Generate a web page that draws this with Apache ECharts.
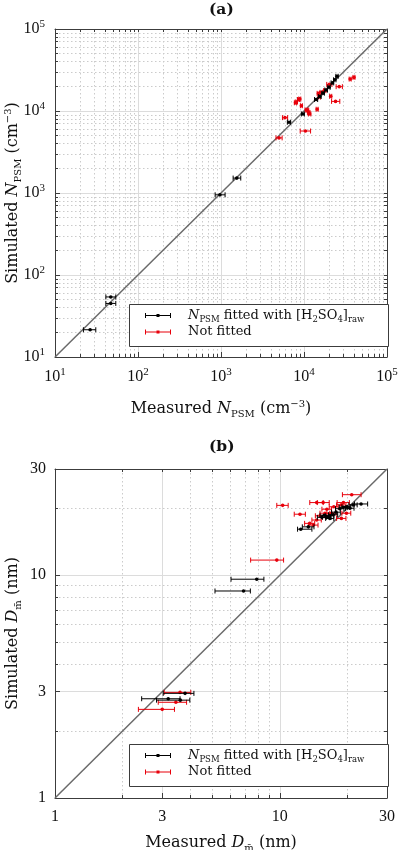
<!DOCTYPE html>
<html>
<head>
<meta charset="utf-8">
<script src="https://cdn.jsdelivr.net/npm/echarts@6/dist/echarts.min.js"></script>
<style>
html, body { margin: 0; padding: 0; background: #fff; }
#main { width: 398px; height: 850px; }
</style>
</head>
<body>
<div id="main"></div>
<script>
// (a) N_PSM, rows are [measured, simulated, measured low, measured high]
const aFitted = [
    [26.5, 21.5, 22, 31],
    [47, 54, 41, 54],
    [47, 45, 41, 54],
    [970, 950, 850, 1120],
    [1550, 1520, 1400, 1730],
    [6600, 7300, 6300, 6900],
    [9700, 9200, 9300, 10100],
    [14000, 13800, 13400, 14600],
    [15500, 15000, 14900, 16100],
    [17000, 16500, 16400, 17600],
    [18500, 18000, 17800, 19200],
    [20000, 19500, 19300, 20700],
    [22000, 22000, 21200, 22800],
    [23500, 24000, 22700, 24300],
    [25000, 26500, 24200, 25800]
];
const aNotFitted = [
    [5000, 4700, 4600, 5450],
    [5900, 8300, 5500, 6350],
    [10400, 5700, 9000, 12000],
    [7900, 12600, 7650, 8150],
    [8100, 12900, 7850, 8350],
    [8600, 13800, 8350, 8850],
    [8900, 14000, 8650, 9150],
    [9300, 11600, 9050, 9550],
    [10700, 10300, 10300, 11100],
    [11000, 10200, 10600, 11400],
    [11400, 9600, 11000, 11800],
    [11700, 9200, 11300, 12100],
    [14400, 10500, 14000, 14800],
    [14900, 16400, 14400, 15400],
    [15300, 14800, 14800, 15800],
    [16200, 16900, 15600, 16800],
    [17800, 17700, 17200, 18400],
    [20200, 21100, 18800, 21700],
    [21000, 15100, 20400, 21600],
    [24000, 13100, 21500, 27000],
    [26600, 19800, 24400, 29000],
    [36000, 24500, 35000, 37000],
    [40000, 25700, 38900, 41100]
];
const aRange = [10, 100000];
const aTicks = [10, 100, 1000, 10000, 100000];
const aTickExp = ['1', '2', '3', '4', '5'];
const aMinor = [20, 30, 40, 50, 60, 70, 80, 90,
    200, 300, 400, 500, 600, 700, 800, 900,
    2000, 3000, 4000, 5000, 6000, 7000, 8000, 9000,
    20000, 30000, 40000, 50000, 60000, 70000, 80000, 90000];

// (b) D_m (nm), same layout
const bFitted = [
    [3.79, 2.95, 3.03, 4.15],
    [3.19, 2.79, 2.43, 3.6],
    [3.61, 2.75, 2.83, 3.98],
    [6.9, 8.5, 5.15, 7.4],
    [7.9, 9.6, 6.07, 8.5],
    [12.4, 16.1, 12.0, 13.9],
    [13.4, 16.5, 12.6, 14.2],
    [15.4, 18.2, 14.7, 16.1],
    [15.8, 18.6, 15.1, 16.5],
    [16.2, 18.2, 15.5, 16.9],
    [16.7, 18.5, 16.0, 17.4],
    [16.7, 18.0, 16.0, 17.4],
    [17.3, 18.7, 16.5, 18.1],
    [17.8, 19.2, 17.0, 18.6],
    [18.5, 19.9, 17.7, 19.3],
    [19.2, 20.2, 18.4, 20.0],
    [19.8, 20.3, 18.9, 20.7],
    [20.5, 20.0, 19.6, 21.4],
    [21.2, 20.7, 20.3, 22.1],
    [23.0, 20.9, 21.5, 24.6]
];
const bNotFitted = [
    [3.6, 2.98, 3.06, 4.02],
    [3.45, 2.69, 2.88, 3.85],
    [3.0, 2.5, 2.35, 3.4],
    [9.7, 11.7, 7.42, 10.4],
    [10.3, 20.6, 9.7, 10.9],
    [12.3, 18.8, 11.6, 13.0],
    [13.6, 17.1, 12.9, 14.3],
    [14.1, 16.8, 13.4, 14.8],
    [14.6, 21.2, 13.6, 15.6],
    [14.6, 17.7, 13.9, 15.3],
    [15.1, 18.5, 14.4, 15.8],
    [15.6, 21.2, 14.7, 16.6],
    [15.9, 19.0, 15.1, 16.7],
    [16.2, 19.8, 15.4, 17.0],
    [17.0, 19.0, 16.2, 17.8],
    [17.4, 20.3, 16.6, 18.2],
    [18.8, 18.0, 17.9, 19.7],
    [18.8, 20.7, 17.9, 19.7],
    [19.2, 21.2, 18.0, 20.4],
    [19.8, 19.0, 18.9, 20.7],
    [20.9, 23.0, 19.0, 23.0]
];
const bRange = [1, 30];
const bTicks = [1, 3, 10, 30];
const bTickText = ['1', '3', '10', '30'];
const bMinor = [2, 4, 5, 6, 7, 8, 9, 20];

const SERIF = 'DejaVu Serif';
const NUMF = 'Liberation Serif';
const FRAME = '#3c3c3c';
const BLACK = '#000000';
const RED = '#e8000b';

const RICH = {
    t: { fontFamily: SERIF, fontSize: 16, lineHeight: 20, color: '#111' },
    i: { fontFamily: SERIF, fontStyle: 'italic', fontSize: 16, lineHeight: 20, color: '#111' },
    sub: { fontFamily: SERIF, fontSize: 10, lineHeight: 9, verticalAlign: 'bottom', color: '#111' },
    sup: { fontFamily: SERIF, fontSize: 10, lineHeight: 10, verticalAlign: 'top', color: '#111' },
    n: { fontFamily: NUMF, fontSize: 16, lineHeight: 20, color: '#111' },
    ns: { fontFamily: NUMF, fontSize: 11, lineHeight: 11, verticalAlign: 'top', color: '#111' }
};
const LRICH = {
    t: { fontFamily: SERIF, fontSize: 13, lineHeight: 17, color: '#111' },
    i: { fontFamily: SERIF, fontStyle: 'italic', fontSize: 13, lineHeight: 17, color: '#111' },
    sub: { fontFamily: SERIF, fontSize: 8.5, lineHeight: 8, verticalAlign: 'bottom', color: '#111' }
};

function pick(ticks, labels, v) {
    let best = 0;
    ticks.forEach((t, k) => {
        if (Math.abs(Math.log(t / v)) < Math.abs(Math.log(ticks[best] / v))) best = k;
    });
    return labels[best];
}
const aFmt = v => '{n|10}{ns|' + pick(aTicks, aTickExp, v) + '}';
const bFmt = v => '{n|' + pick(bTicks, bTickText, v) + '}';

function mkAxes(isX, gi, range, major, minor, fmt, margin, name, nameGap) {
    const base = { type: 'log', logBase: 10, gridIndex: gi, min: range[0], max: range[1] };
    return [
        Object.assign({}, base, {
            position: isX ? 'bottom' : 'left',
            name: name,
            nameLocation: 'middle',
            nameGap: nameGap,
            nameMoveOverlap: false,
            nameTextStyle: { rich: RICH },
            axisLine: { show: true, onZero: false, lineStyle: { color: FRAME, width: 1 } },
            axisTick: { show: true, inside: true, length: 5, customValues: major, lineStyle: { color: FRAME } },
            axisLabel: { show: true, customValues: major, formatter: fmt, margin: margin, rich: RICH },
            splitLine: { show: true, lineStyle: { color: '#dcdcdc', width: 1 } },
            minorTick: { show: false },
            minorSplitLine: { show: false }
        }),
        Object.assign({}, base, {
            position: isX ? 'bottom' : 'left',
            axisLine: { show: false },
            axisTick: { show: true, inside: true, length: 3, customValues: minor, lineStyle: { color: FRAME } },
            axisLabel: { show: false },
            splitLine: { show: true, lineStyle: { color: '#cbcbcb', width: 1, type: [1.5, 2.5] } }
        }),
        Object.assign({}, base, {
            position: isX ? 'top' : 'right',
            axisLine: { show: true, onZero: false, lineStyle: { color: FRAME, width: 1 } },
            axisTick: { show: true, inside: true, length: 3, customValues: major.concat(minor), lineStyle: { color: FRAME } },
            axisLabel: { show: false },
            splitLine: { show: false }
        })
    ];
}

// horizontal error bar with caps and a dot
function errBar(params, api) {
    const y = api.value(1);
    const lo = api.coord([api.value(2), y]);
    const hi = api.coord([api.value(3), y]);
    const c = api.coord([api.value(0), y]);
    const color = api.visual('color');
    const cap = 2.5;
    const st = { stroke: color, lineWidth: 1 };
    return {
        type: 'group',
        children: [
            { type: 'line', shape: { x1: lo[0], y1: lo[1], x2: hi[0], y2: hi[1] }, style: st },
            { type: 'line', shape: { x1: lo[0], y1: lo[1] - cap, x2: lo[0], y2: lo[1] + cap }, style: st },
            { type: 'line', shape: { x1: hi[0], y1: hi[1] - cap, x2: hi[0], y2: hi[1] + cap }, style: st },
            { type: 'circle', shape: { cx: c[0], cy: c[1], r: 1.8 }, style: { fill: color } }
        ]
    };
}

const nameN = '{i|N}{sub|PSM}';
const nameD = '{i|D}{sub|m\u0304}';
const ICON = 'path://M0,2H26V3H0Z M0,0H1V5H0Z M25,0H26V5H25Z M11.5,1H14.5V4H11.5Z';

function legendAt(top) {
    return {
        left: 145, top: top,
        orient: 'vertical',
        selectedMode: false,
        padding: 0,
        z: 20,
        itemGap: 1.5,
        itemWidth: 50,
        itemHeight: 5,
        data: [{ name: 'fitted', icon: ICON }, { name: 'notfitted', icon: ICON }],
        formatter: n => n === 'fitted'
            ? nameN + '{t| fitted with [H}{sub|2}{t|SO}{sub|4}{t|]}{sub|raw}'
            : '{t|Not fitted}',
        textStyle: { rich: LRICH }
    };
}

function legendBox(top) {
    return {
        type: 'rect', left: 129, top: top, z: 15,
        shape: { width: 259, height: 42 },
        style: { fill: '#fff', stroke: FRAME, lineWidth: 1 }
    };
}

function errSeries(name, data, color, xi, yi) {
    return {
        name: name, type: 'custom', xAxisIndex: xi, yAxisIndex: yi,
        renderItem: errBar, data: data, z: 4,
        itemStyle: { color: color }
    };
}

function diag(range, xi, yi) {
    return {
        type: 'line', xAxisIndex: xi, yAxisIndex: yi, z: 3,
        data: range.map(v => [v, v]), symbol: 'none', silent: true,
        lineStyle: { color: '#6a6a6a', width: 1.5 }
    };
}

const chart = echarts.init(document.getElementById('main'));
chart.setOption({
    animation: false,
    backgroundColor: '#fff',
    title: [
        { text: '(a)', left: 209, top: 2, padding: 0, textStyle: { fontFamily: SERIF, fontWeight: 'bold', fontSize: 15.5, color: '#111' } },
        { text: '(b)', left: 209, top: 439, padding: 0, textStyle: { fontFamily: SERIF, fontWeight: 'bold', fontSize: 15.5, color: '#111' } }
    ],
    grid: [
        { left: 55, top: 29, width: 332, height: 328, outerBoundsMode: 'none', containLabel: false },
        { left: 55, top: 469, width: 332, height: 329, outerBoundsMode: 'none', containLabel: false }
    ],
    graphic: [legendBox(304), legendBox(744)],
    xAxis: [].concat(
        mkAxes(true, 0, aRange, aTicks, aMinor, aFmt, 10, '{t|Measured }' + nameN + '{t| (cm}{sup|\u22123}{t|)}', 42),
        mkAxes(true, 1, bRange, bTicks, bMinor, bFmt, 9, '{t|Measured }' + nameD + '{t| (nm)}', 35)
    ),
    yAxis: [].concat(
        mkAxes(false, 0, aRange, aTicks, aMinor, aFmt, 10, '{t|Simulated }' + nameN + '{t| (cm}{sup|\u22123}{t|)}', 32),
        mkAxes(false, 1, bRange, bTicks, bMinor, bFmt, 9, '{t|Simulated }' + nameD + '{t| (nm)}', 32)
    ),
    legend: [legendAt(309), legendAt(749)],
    series: [
        diag(aRange, 0, 0),
        errSeries('notfitted', aNotFitted, RED, 0, 0),
        errSeries('fitted', aFitted, BLACK, 0, 0),
        diag(bRange, 3, 3),
        errSeries('notfitted', bNotFitted, RED, 3, 3),
        errSeries('fitted', bFitted, BLACK, 3, 3)
    ]
});
</script>
</body>
</html>
